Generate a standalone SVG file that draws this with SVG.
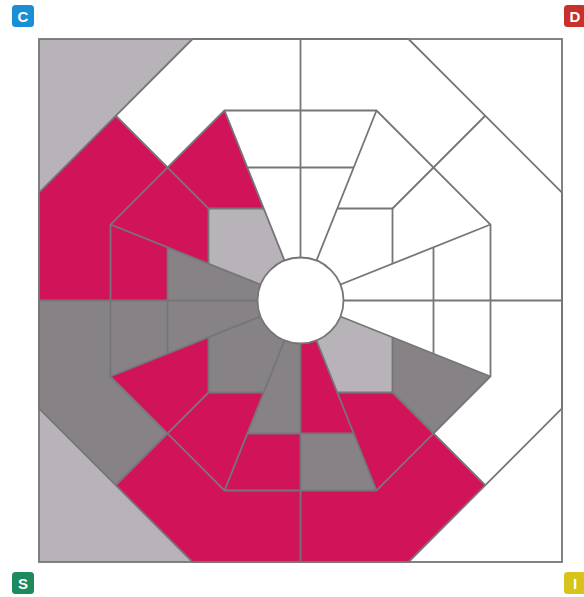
<svg xmlns="http://www.w3.org/2000/svg" width="584" height="597" viewBox="0 0 584 597">
<style>
.pk{fill:#D1135A}
.dk{fill:#878285}
.lt{fill:#B8B3B9}
.ln{fill:none;stroke:#767676;stroke-width:1.8;stroke-linejoin:miter}
.badge-t{font-family:"Liberation Sans",Arial,sans-serif;font-weight:bold;font-size:15px;fill:#fff;text-anchor:middle}
</style>
<rect x="0" y="0" width="584" height="597" fill="#fff"/>
<g id="corners">
<polygon class="lt" points="39,39 192.5,39 39,192.5"/>
<polygon class="lt" points="39,562 39,408.5 192.5,562"/>
</g>
<g id="outer-ring">
<polygon class="pk" points="39,192.5 116,116 167.5,167.5 110.5,224.5 110.5,300.5 39,300.5"/>
<polygon class="dk" points="39,300.5 110.5,300.5 110.5,376.5 167.5,433.5 116,485 39,408.5"/>
<polygon class="pk" points="116,485 167.5,433.5 224.5,490.5 300.5,490.5 300.5,562 192.5,562"/>
<polygon class="pk" points="300.5,490.5 376.5,490.5 433.5,433.5 485,485 408.5,562 300.5,562"/>
</g>
<g id="sector-tl">
<polygon class="lt" points="300.5,300.5 263.7,208.5 208.5,208.5 208.5,263.7"/>
<polygon class="pk" points="263.7,208.5 224.5,110.5 167.5,167.5 208.5,208.5"/>
<polygon class="pk" points="208.5,208.5 167.5,167.5 110.5,224.5 208.5,263.7"/>
</g>
<g id="sector-left">
<polygon class="pk" points="110.5,224.5 167.5,247.3 167.5,300.5 110.5,300.5"/>
<polygon class="dk" points="110.5,300.5 167.5,300.5 167.5,353.7 110.5,376.5"/>
<polygon class="dk" points="300.5,300.5 167.5,247.3 167.5,353.7"/>
</g>
<g id="sector-bl">
<polygon class="dk" points="300.5,300.5 208.5,337.3 208.5,392.5 263.7,392.5"/>
<polygon class="pk" points="208.5,337.3 110.5,376.5 167.5,433.5 208.5,392.5"/>
<polygon class="pk" points="208.5,392.5 167.5,433.5 224.5,490.5 263.7,392.5"/>
</g>
<g id="sector-bottom">
<polygon class="dk" points="300.5,300.5 247.3,433.5 300.5,433.5"/>
<polygon class="pk" points="300.5,300.5 300.5,433.5 353.7,433.5"/>
<polygon class="pk" points="247.3,433.5 300.5,433.5 300.5,490.5 224.5,490.5"/>
<polygon class="dk" points="300.5,433.5 353.7,433.5 376.5,490.5 300.5,490.5"/>
</g>
<g id="sector-br">
<polygon class="lt" points="300.5,300.5 337.3,392.5 392.5,392.5 392.5,337.3"/>
<polygon class="pk" points="337.3,392.5 376.5,490.5 433.5,433.5 392.5,392.5"/>
<polygon class="dk" points="392.5,392.5 433.5,433.5 490.5,376.5 392.5,337.3"/>
</g>
<g id="lines">
<rect class="ln" x="39" y="39" width="523" height="523"/>
<polygon class="ln" points="192.5,39 408.5,39 562,192.5 562,408.5 408.5,562 192.5,562 39,408.5 39,192.5"/>
<polygon class="ln" points="224.5,110.5 376.5,110.5 490.5,224.5 490.5,376.5 376.5,490.5 224.5,490.5 110.5,376.5 110.5,224.5"/>
<path class="ln" d="M300.5,39V562M39,300.5H562"/>
<path class="ln" d="M300.5,300.5L224.5,110.5M300.5,300.5L376.5,110.5M300.5,300.5L490.5,224.5M300.5,300.5L490.5,376.5M300.5,300.5L376.5,490.5M300.5,300.5L224.5,490.5M300.5,300.5L110.5,376.5M300.5,300.5L110.5,224.5"/>
<path class="ln" d="M208.5,208.5L116,116M392.5,208.5L485,116M392.5,392.5L485,485M208.5,392.5L116,485"/>
<path class="ln" d="M263.7,208.5H208.5V263.7M337.3,208.5H392.5V263.7M392.5,337.3V392.5H337.3M263.7,392.5H208.5V337.3"/>
<path class="ln" d="M247.3,167.5H353.7M247.3,433.5H353.7M167.5,247.3V353.7M433.5,247.3V353.7"/>
<circle cx="300.5" cy="300.5" r="43" fill="#fff" stroke="#767676" stroke-width="1.8"/>
</g>
<g id="badge-c">
<rect x="12" y="5" width="22" height="22" rx="3.5" fill="#1A8FD5"/>
<text class="badge-t" x="23" y="21.5">C</text>
</g>
<g id="badge-d">
<rect x="564" y="5" width="22" height="22" rx="3.5" fill="#C8302A"/>
<text class="badge-t" x="575" y="21.5">D</text>
</g>
<g id="badge-s">
<rect x="12" y="572" width="22" height="22" rx="3.5" fill="#1C8A5C"/>
<text class="badge-t" x="23" y="588.5">S</text>
</g>
<g id="badge-i">
<rect x="564" y="572" width="22" height="22" rx="3.5" fill="#D6C41C"/>
<text class="badge-t" x="575" y="588.5">I</text>
</g>
</svg>
